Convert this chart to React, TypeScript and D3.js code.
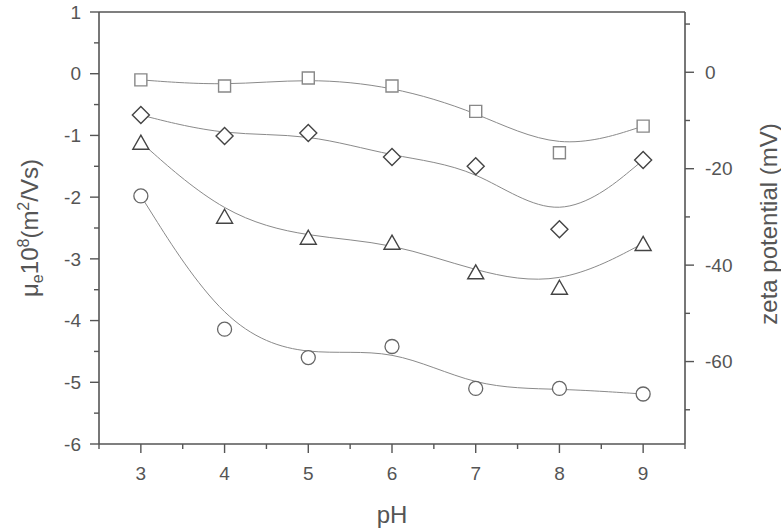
import React from "react";
import * as d3 from "d3";

const pH = [3, 4, 5, 6, 7, 8, 9];
const squareSeries = [-0.1, -0.2, -0.07, -0.2, -0.61, -1.28, -0.85];
const diamondSeries = [-0.67, -1.01, -0.96, -1.35, -1.5, -2.52, -1.4];
const triangleSeries = [-1.11, -2.31, -2.65, -2.73, -3.21, -3.46, -2.75];
const circleSeries = [-1.98, -4.14, -4.6, -4.42, -5.1, -5.1, -5.19];

const xTicks = [3, 4, 5, 6, 7, 8, 9];
const yTicks = [1, 0, -1, -2, -3, -4, -5, -6];
const zetaTicks = [0, -20, -40, -60];

const W = 781;
const H = 531;
const L = 99, R = 685, T = 12, B = 444;
const FONT = "'Liberation Sans', Arial, Helvetica, sans-serif";
const AX = "#555";
const TXT = "#555";

export default function App() {
  const x = d3.scaleLinear().domain([2.5, 9.5]).range([L, R]);
  const y = d3.scaleLinear().domain([-6, 1]).range([B, T]);
  const z = d3.scaleLinear().domain([-77.1, 12.5]).range([B, T]);

  const line = d3
    .line<number>()
    .x((_, i) => x(pH[i]))
    .y((d) => y(d))
    .curve(d3.curveBasis);

  const xMinor = d3.range(2.5, 9.51, 1);
  const yMinor = d3.range(-5.5, 0.51, 1);
  const zMinor = [10, -10, -30, -50, -70];

  const sq = (cx: number, cy: number) => {
    const s = 6;
    return `M${cx - s},${cy - s}H${cx + s}V${cy + s}H${cx - s}Z`;
  };
  const dm = (cx: number, cy: number) => {
    const s = 8.5;
    return `M${cx},${cy - s}L${cx + s},${cy}L${cx},${cy + s}L${cx - s},${cy}Z`;
  };
  const tr = (cx: number, cy: number) =>
    `M${cx},${cy - 7}L${cx + 8},${cy + 7}L${cx - 8},${cy + 7}Z`;

  const series = [
    { data: squareSeries, kind: "sq", color: "#888" },
    { data: diamondSeries, kind: "dm", color: "#444" },
    { data: triangleSeries, kind: "tr", color: "#444" },
    { data: circleSeries, kind: "ci", color: "#666" },
  ];

  return (
    <svg
      width={W}
      height={H}
      style={{ position: "absolute", left: 0, top: 0, background: "#fff" }}
      fontFamily={FONT}
    >
      {/* curves */}
      {series.map((s, si) => (
        <path
          key={"l" + si}
          d={line(s.data) || ""}
          fill="none"
          stroke="#8a8a8a"
          strokeWidth={1}
        />
      ))}
      {/* markers */}
      {series.map((s, si) =>
        s.data.map((v, i) => {
          const cx = x(pH[i]);
          const cy = y(v);
          if (s.kind === "ci")
            return (
              <circle
                key={si + "-" + i}
                cx={cx}
                cy={cy}
                r={7}
                fill="#fff"
                stroke={s.color}
                strokeWidth={1.3}
              />
            );
          const d = s.kind === "sq" ? sq(cx, cy) : s.kind === "dm" ? dm(cx, cy) : tr(cx, cy);
          return (
            <path
              key={si + "-" + i}
              d={d}
              fill="#fff"
              stroke={s.color}
              strokeWidth={1.4}
              strokeLinejoin="miter"
            />
          );
        })
      )}

      {/* frame */}
      <g stroke={AX} strokeWidth={1.6} fill="none">
        <line x1={L} y1={T} x2={R} y2={T} />
        <line x1={L} y1={T} x2={L} y2={B} />
        <line x1={R} y1={T} x2={R} y2={B} />
        <line x1={L} y1={B} x2={R} y2={B} />
      </g>

      {/* x ticks */}
      <g stroke={AX} strokeWidth={1.4}>
        {xTicks.map((t) => (
          <line key={"xt" + t} x1={x(t)} x2={x(t)} y1={B} y2={B + 9} />
        ))}
        {xMinor.map((t) => (
          <line key={"xm" + t} x1={x(t)} x2={x(t)} y1={B} y2={B + 5} />
        ))}
        {yTicks.map((t) => (
          <line key={"yt" + t} x1={L - 9} x2={L} y1={y(t)} y2={y(t)} />
        ))}
        {yMinor.map((t) => (
          <line key={"ym" + t} x1={L - 5} x2={L} y1={y(t)} y2={y(t)} />
        ))}
        {zetaTicks.map((t) => (
          <line key={"zt" + t} x1={R} x2={R + 9} y1={z(t)} y2={z(t)} />
        ))}
        {zMinor.map((t) => (
          <line key={"zm" + t} x1={R} x2={R + 5} y1={z(t)} y2={z(t)} />
        ))}
      </g>

      {/* tick labels */}
      <g fill={TXT} fontSize={19}>
        {xTicks.map((t) => (
          <text key={"xl" + t} x={x(t)} y={B + 36} textAnchor="middle">
            {t}
          </text>
        ))}
        {yTicks.map((t) => (
          <text key={"yl" + t} x={81} y={y(t)} dy="0.35em" textAnchor="end">
            {t}
          </text>
        ))}
        {zetaTicks.map((t) => (
          <text key={"zl" + t} x={705} y={z(t)} dy="0.35em" textAnchor="start">
            {t}
          </text>
        ))}
      </g>

      {/* axis titles */}
      <text x={(L + R) / 2} y={523} textAnchor="middle" fontSize={24} fill={TXT}>
        pH
      </text>
      <text
        transform={`translate(38,${(T + B) / 2}) rotate(-90)`}
        textAnchor="middle"
        fontSize={24}
        fill={TXT}
      >
        μ
        <tspan fontSize={16} dy={5}>e</tspan>
        <tspan dy={-5}>10</tspan>
        <tspan fontSize={16} dy={-9}>8</tspan>
        <tspan dy={9}>(m</tspan>
        <tspan fontSize={16} dy={-9}>2</tspan>
        <tspan dy={9}>/Vs)</tspan>
      </text>
      <text
        transform={`translate(777,224) rotate(-90)`}
        textAnchor="middle"
        fontSize={24}
        fill={TXT}
      >
        zeta potential (mV)
      </text>
    </svg>
  );
}
